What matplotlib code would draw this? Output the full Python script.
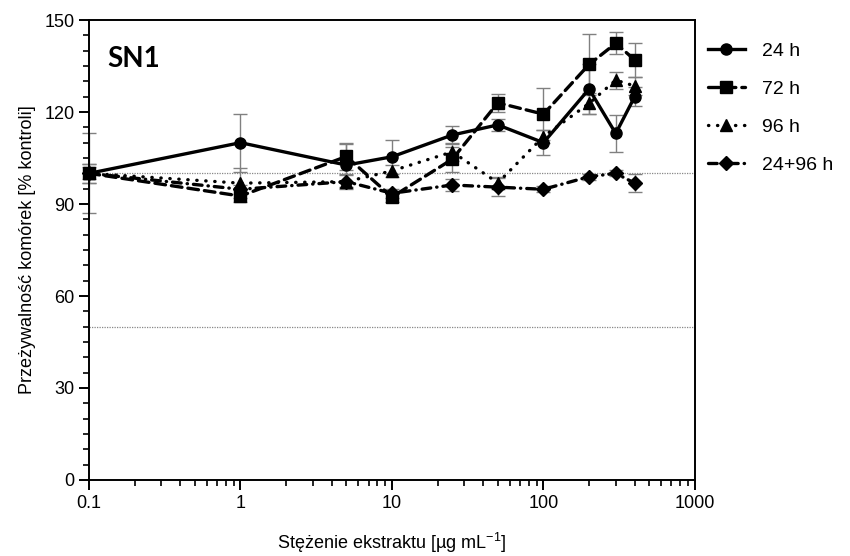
import matplotlib
matplotlib.use("Agg")
import matplotlib.pyplot as plt
from matplotlib.ticker import FixedLocator, MultipleLocator, NullFormatter, LogLocator

plt.rcParams['font.family'] = ['Liberation Sans', 'DejaVu Sans']
plt.rcParams['mathtext.fontset'] = 'custom'
plt.rcParams['mathtext.rm'] = 'Liberation Sans'
plt.rcParams['mathtext.it'] = 'Liberation Sans:italic'
plt.rcParams['mathtext.bf'] = 'Liberation Sans:bold'

conc = [0.1, 1, 5, 10, 25, 50, 100, 200, 300, 400]

v24 = [100, 110, 102.7, 105.4, 112.5, 115.8, 110, 127.5, 113, 125]
e24 = [13, 9.5, 7, 5.5, 3, 2, 4, 8, 6, 3]
v72 = [100, 92.6, 105.5, 92.3, 104.6, 123, 119.3, 135.5, 142.4, 137]
e72 = [3, 2, 4.5, 1.5, 4, 3, 8.5, 10, 3.6, 5.5]
v96 = [100, 96.8, 97.3, 100.8, 107, 96.9, 112, 122.8, 130.4, 128.5]
e96 = [3, 5, 2, 2, 3, 2, 2, 3.5, 2.8, 3]
v2496 = [100, 94.8, 97.3, 93.5, 96.2, 95.5, 94.8, 98.9, 100, 96.8]
e2496 = [2, 1.5, 2.5, 1.5, 2, 3, 1, 1, 1, 3]

series = [
    ("24 h", v24, e24, "o", "-"),
    ("72 h", v72, e72, "s", (0, (3.2, 1.8))),
    ("96 h", v96, e96, "^", (0, (0.1, 2.6))),
    ("24+96 h", v2496, e2496, "D", (0, (2.6, 1.8, 0.1, 1.8))),
]

fig = plt.figure(figsize=(8.5, 5.56), dpi=100)
ax = fig.add_axes([0.1047, 0.1367, 0.8176 - 0.1047, 0.964 - 0.1367])

ax.axhline(100, color="#888888", lw=0.9, ls=(0, (1, 1)), zorder=1)
ax.axhline(50, color="#888888", lw=0.9, ls=(0, (1, 1)), zorder=1)

handles = []
for name, vals, errs, mk, ls in series:
    ax.errorbar(conc, vals, yerr=errs, fmt="none", ecolor="#808080",
                elinewidth=1.0, capsize=5, capthick=1.0, zorder=2, clip_on=False)
    ms = 8 if mk != "D" else 7
    (h,) = ax.plot(conc, vals, color="black", lw=2.4, ls=ls, marker=mk,
                   ms=ms, markeredgecolor="black", zorder=3, clip_on=False,
                   dash_capstyle="round")
    handles.append(h)

ax.set_xscale("log")
ax.set_xlim(0.1, 1000)
ax.set_ylim(0, 150)
ax.xaxis.set_major_locator(FixedLocator([0.1, 1, 10, 100, 1000]))
ax.xaxis.set_minor_locator(LogLocator(base=10, subs=range(2, 10)))
ax.xaxis.set_minor_formatter(NullFormatter())
ax.set_xticklabels(["0.1", "1", "10", "100", "1000"])
ax.yaxis.set_major_locator(MultipleLocator(30))
ax.yaxis.set_minor_locator(MultipleLocator(5))

for s in ax.spines.values():
    s.set_linewidth(1.4)
ax.tick_params(axis="both", which="major", length=7, width=1.4, labelsize=13, direction="out")
ax.tick_params(axis="both", which="minor", length=4, width=1.2, direction="out")

ax.set_xlabel("Stężenie ekstraktu [µg mL$^{-1}$]", fontsize=13, labelpad=14)
ax.set_ylabel("Przeżywalność komórek [% kontroli]", fontsize=13, labelpad=6)

ax.text(0.03, 0.915, "SN1", transform=ax.transAxes, fontsize=20,
        fontweight="bold", family=["Lato", "DejaVu Sans"], va="center", ha="left")

leg = fig.legend(handles, [s[0] for s in series], loc="upper left",
                 bbox_to_anchor=(0.812, 0.955), frameon=False, fontsize=14,
                 handlelength=1.9, handletextpad=0.9, labelspacing=1.05)

fig.savefig("out.png", dpi=100)
